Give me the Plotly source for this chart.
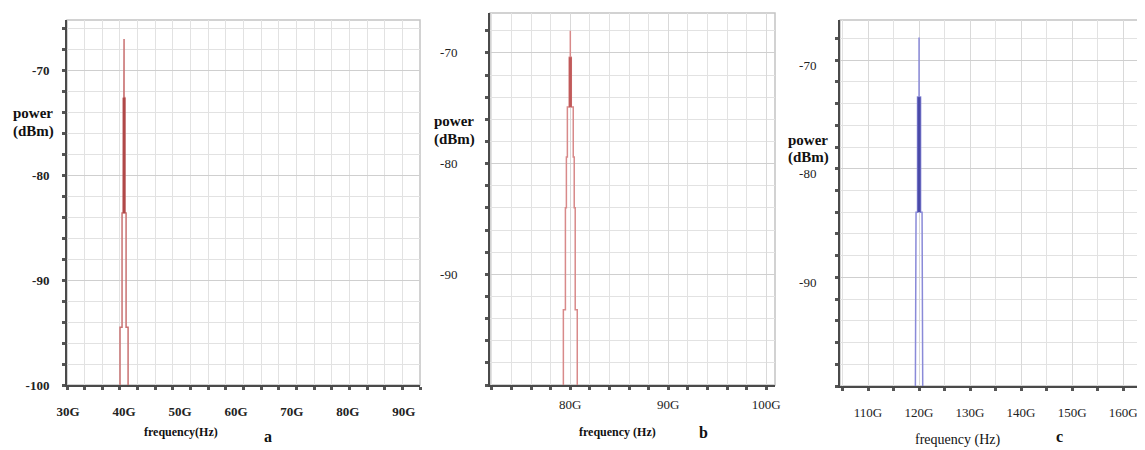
import plotly.graph_objects as go

PAGE_W, PAGE_H = 1145, 450
OFF = 8                      # page body margin of the html page
W, H = PAGE_W - OFF, PAGE_H - OFF

# ---------------- data (GHz, dBm) ----------------
# panel a : spectral line at 40 GHz (outline of the drawn trace)
freq_a = [39.28, 39.28, 39.64, 39.64, 39.9, 39.9, 40.0, 40.0, 40.0, 40.1, 40.1, 40.36, 40.36, 40.72, 40.72]
pow_a = [-100, -94.5, -94.5, -83.6, -83.6, -72.6, -72.6, -67.0, -72.6, -72.6, -83.6, -83.6, -94.5, -94.5, -100]
core_freq_a = [40.0, 40.0]
core_pow_a = [-83.6, -72.6]

# panel b : spectral line at 80 GHz
freq_b = [79.29, 79.29, 79.5, 79.5, 79.6, 79.6, 79.7, 79.7, 79.9, 79.9, 80.0, 80.0, 80.0,
          80.1, 80.1, 80.3, 80.3, 80.4, 80.4, 80.5, 80.5, 80.71, 80.71]
pow_b = [-100, -93.2, -93.2, -84.0, -84.0, -79.4, -79.4, -74.9, -74.9, -70.4, -70.4, -68.0, -70.4,
         -70.4, -74.9, -74.9, -79.4, -79.4, -84.0, -84.0, -93.2, -93.2, -100]
core_freq_b = [80.0, 80.0]
core_pow_b = [-74.9, -70.4]

# panel c : spectral line at 120 GHz
freq_c = [119.28, 119.28, 119.41, 119.41, 119.7, 119.7, 120.0, 120.0, 120.0, 120.3, 120.3, 120.59, 120.59, 120.72, 120.72]
pow_c = [-100, -94.6, -94.6, -84.0, -84.0, -73.4, -73.4, -67.9, -73.4, -73.4, -84.0, -84.0, -94.6, -94.6, -100]
core_freq_c = [120.0, 120.0]
core_pow_c = [-84.0, -73.4]

# tick labels
xt_a = [30, 40, 50, 60, 70, 80, 90]
xl_a = ["30G", "40G", "50G", "60G", "70G", "80G", "90G"]
xt_b = [80, 90, 100]
xl_b = ["80G", "90G", "100G"]
xt_c = [110, 120, 130, 140, 150, 160]
xl_c = ["110G", "120G", "130G", "140G", "150G", "160G"]
yt_a = [-100, -90, -80, -70]
yl_a = ["-100", "-90", "-80", "-70"]
yt_bc = [-90, -80, -70]
yl_bc = ["-90", "-80", "-70"]

SERIF = "Liberation Serif, Times New Roman, serif"


def dx(x0, x1):
    return [(x0 - OFF) / W, min(1.0, (x1 - OFF) / W)]


def dy(top, bottom):
    return [1 - (bottom - OFF) / H, 1 - (top - OFF) / H]


def xaxis(domain, rng, tv, tt, mdt, mt0, standoff, bold, anchor, major_grid):
    return dict(domain=domain, range=rng, anchor=anchor, tickmode="array", tickvals=tv, ticktext=tt,
                automargin=False,
                showgrid=major_grid, gridcolor="#d9d9d9", gridwidth=1, zeroline=False,
                showline=True, linecolor="#4a4a4a", linewidth=2,
                ticks="outside" if major_grid else "", ticklen=3, tickwidth=3, tickcolor="#555",
                ticklabelstandoff=standoff,
                tickfont=dict(family=SERIF, size=13, color="#222", weight="bold" if bold else "normal"),
                minor=dict(dtick=mdt, tick0=mt0, showgrid=True, gridcolor="#e2e2e2", gridwidth=1,
                           ticks="outside", ticklen=3, tickwidth=3, tickcolor="#555"),
                fixedrange=True)


def yaxis(domain, rng, tv, tt, standoff, shift, bold, anchor):
    return dict(domain=domain, range=rng, anchor=anchor, tickmode="array", tickvals=tv, ticktext=tt,
                automargin=False,
                showgrid=True, gridcolor="#cfcfcf", gridwidth=1, zeroline=False,
                showline=True, linecolor="#4a4a4a", linewidth=2,
                ticks="outside", ticklen=3, tickwidth=3, tickcolor="#555",
                ticklabelstandoff=standoff, ticklabelshift=shift,
                tickfont=dict(family=SERIF, size=13, color="#222", weight="bold" if bold else "normal"),
                minor=dict(dtick=2, tick0=-100, showgrid=True, gridcolor="#e2e2e2", gridwidth=1,
                           ticks="outside", ticklen=3, tickwidth=3, tickcolor="#555"),
                fixedrange=True)


fig = go.Figure()
# panel a
fig.add_trace(go.Scatter(x=freq_a, y=pow_a, mode="lines", line=dict(color="#c97272", width=1.5),
                         xaxis="x", yaxis="y", hoverinfo="skip"))
fig.add_trace(go.Scatter(x=core_freq_a, y=core_pow_a, mode="lines", line=dict(color="#b04848", width=3),
                         xaxis="x", yaxis="y", hoverinfo="skip"))
# panel b
fig.add_trace(go.Scatter(x=freq_b, y=pow_b, mode="lines", line=dict(color="#d88a8a", width=1.5),
                         xaxis="x2", yaxis="y2", hoverinfo="skip"))
fig.add_trace(go.Scatter(x=core_freq_b, y=core_pow_b, mode="lines", line=dict(color="#c05a5a", width=3),
                         xaxis="x2", yaxis="y2", hoverinfo="skip"))
# panel c
fig.add_trace(go.Scatter(x=freq_c, y=pow_c, mode="lines", line=dict(color="#8a8ad8", width=1.5),
                         xaxis="x3", yaxis="y3", hoverinfo="skip"))
fig.add_trace(go.Scatter(x=core_freq_c, y=core_pow_c, mode="lines", line=dict(color="#4a4aa8", width=3),
                         xaxis="x3", yaxis="y3", hoverinfo="skip"))

layout = dict(
    width=W, height=H, margin=dict(l=0, r=0, t=0, b=0, autoexpand=False),
    paper_bgcolor="white", plot_bgcolor="white", showlegend=False,
    xaxis=xaxis(dx(67, 420), [29.8, 92.9], xt_a, xl_a, 3.155, 29.8, 13, True, "y", False),
    yaxis=yaxis(dy(20, 385), [-100, -65.2], yt_a, yl_a, 10, 0, True, "x"),
    xaxis2=xaxis(dx(490, 775), [71.8, 100.9], xt_b, xl_b, 2, 80, 3, False, "y2", True),
    yaxis2=yaxis(dy(13, 385), [-100, -66.4], yt_bc, yl_bc, 25, 0, False, "x2"),
    xaxis3=xaxis(dx(840, 1145), [104.5, 164.3], xt_c, xl_c, 5, 110, 10, False, "y3", True),
    yaxis3=yaxis(dy(20, 386), [-100, -66.3], yt_bc, yl_bc, 16, 5, False, "x3"),
)
fig.update_layout(**layout)

# light frame (top / right borders)
for xr, yr in [("x domain", "y domain"), ("x2 domain", "y2 domain"), ("x3 domain", "y3 domain")]:
    fig.add_shape(type="rect", xref=xr, yref=yr, x0=0, x1=1, y0=0, y1=1,
                  line=dict(color="#c4c4c4", width=1.5), layer="below")


def ann(text, x, y, size, bold=True):
    fig.add_annotation(text=text, x=(x - OFF) / W, y=1 - (y - OFF) / H, xref="paper", yref="paper",
                       showarrow=False, xanchor="center", yanchor="middle",
                       font=dict(family=SERIF, size=size, color="#111", weight="bold" if bold else "normal"))


# y-axis titles
ann("power", 33, 113, 15)
ann("(dBm)", 33, 131, 15)
ann("power", 454, 121, 15)
ann("(dBm)", 454, 139, 15)
ann("power", 808, 140, 15)
ann("(dBm)", 808, 157, 15)
# x-axis titles
ann("frequency(Hz)", 181, 432, 12)
ann("frequency (Hz)", 617, 432, 12)
ann("frequency (Hz)", 957, 440, 14, bold=False)
# panel letters
ann("a", 268, 436, 16)
ann("b", 703, 432, 16)
ann("c", 1059, 436, 16)

fig.write_html("out.html")
